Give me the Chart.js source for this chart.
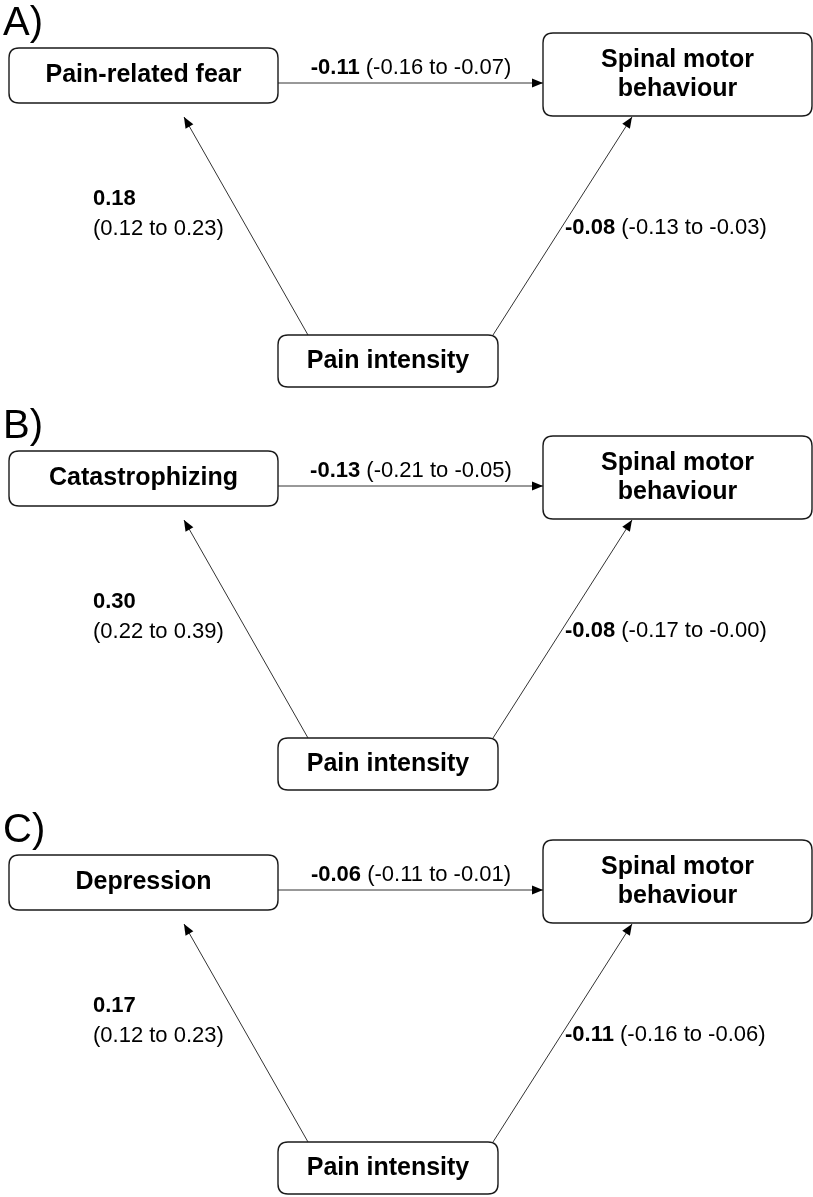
<!DOCTYPE html>
<html>
<head>
<meta charset="utf-8">
<script src="https://cdn.jsdelivr.net/npm/chart.js@4/dist/chart.umd.min.js"></script>
<style>
  html, body { margin: 0; padding: 0; background: #fff; }
</style>
</head>
<body>
<canvas id="myChart" width="813" height="1197"></canvas>
<script>
// path model values, one entry per panel
var panels = ['A)', 'B)', 'C)'];
var mediators = ['Pain-related fear', 'Catastrophizing', 'Depression'];
var predictor = 'Pain intensity';
var outcome = ['Spinal motor', 'behaviour'];

// pain intensity -> mediator
var aEst = [0.18, 0.30, 0.17];
var aLow = [0.12, 0.22, 0.12];
var aHigh = [0.23, 0.39, 0.23];
// mediator -> spinal motor behaviour
var bEst = [-0.11, -0.13, -0.06];
var bLow = [-0.16, -0.21, -0.11];
var bHigh = [-0.07, -0.05, -0.01];
// pain intensity -> spinal motor behaviour
var cEst = [-0.08, -0.08, -0.11];
var cLow = [-0.13, -0.17, -0.16];
var cHigh = [-0.03, -0.00, -0.06];

// layout of one panel (in scale units, same as pixels here)
var panelShift = [0, 403, 807];
var boxMed = { x0: 9, x1: 278, y0: 48, y1: 103 };
var boxOut = { x0: 543, x1: 812, y0: 33, y1: 116 };
var boxPred = { x0: 278, x1: 498, y0: 335, y1: 387 };
var arrows = [
  { from: [278, 83], to: [543, 83] },
  { from: [308, 335], to: [184, 117] },
  { from: [493, 335], to: [632, 117] }
];

var FONT = '"Liberation Sans", Arial, sans-serif';

function fmt(v) {
  var neg = v < 0 || Object.is(v, -0);
  return (neg ? '-' : '') + Math.abs(v).toFixed(2);
}

var datasets = [];
panelShift.forEach(function (dy) {
  arrows.forEach(function (a) {
    datasets.push({
      data: [{ x: a.from[0], y: a.from[1] + dy }, { x: a.to[0], y: a.to[1] + dy }],
      showLine: true,
      borderColor: '#333',
      borderWidth: 1,
      pointRadius: 0,
      pointHoverRadius: 0,
      fill: false
    });
  });
});

function roundBox(ctx, x0, y0, x1, y1, r) {
  ctx.beginPath();
  ctx.moveTo(x0 + r, y0);
  ctx.lineTo(x1 - r, y0);
  ctx.quadraticCurveTo(x1, y0, x1, y0 + r);
  ctx.lineTo(x1, y1 - r);
  ctx.quadraticCurveTo(x1, y1, x1 - r, y1);
  ctx.lineTo(x0 + r, y1);
  ctx.quadraticCurveTo(x0, y1, x0, y1 - r);
  ctx.lineTo(x0, y0 + r);
  ctx.quadraticCurveTo(x0, y0, x0 + r, y0);
  ctx.closePath();
  ctx.fillStyle = '#fff';
  ctx.fill();
  ctx.stroke();
}

// bold estimate followed by normal CI text, starting at x (left) or centred
function estText(ctx, est, lo, hi, x, y, align, split) {
  var bold = fmt(est);
  var rest = '(' + fmt(lo) + ' to ' + fmt(hi) + ')';
  ctx.textBaseline = 'middle';
  ctx.textAlign = 'left';
  ctx.font = 'bold 22px ' + FONT;
  var wb = ctx.measureText(bold + ' ').width;
  if (split) {
    ctx.fillText(bold, x, y);
    ctx.font = '22px ' + FONT;
    ctx.fillText(rest, x, y + 30);
    return;
  }
  ctx.font = '22px ' + FONT;
  var wr = ctx.measureText(rest).width;
  var sx = align === 'center' ? x - (wb + wr) / 2 : x;
  ctx.font = 'bold 22px ' + FONT;
  ctx.fillText(bold, sx, y);
  ctx.font = '22px ' + FONT;
  ctx.fillText(rest, sx + wb, y);
}

var diagram = {
  id: 'diagram',
  afterDatasetsDraw: function (chart) {
    var ctx = chart.ctx;
    var sx = chart.scales.x, sy = chart.scales.y;
    function px(v) { return sx.getPixelForValue(v); }
    function py(v) { return sy.getPixelForValue(v); }
    ctx.save();
    panelShift.forEach(function (dy, i) {
      // arrowheads
      arrows.forEach(function (a) {
        var x0 = px(a.from[0]), y0 = py(a.from[1] + dy);
        var x1 = px(a.to[0]), y1 = py(a.to[1] + dy);
        var ang = Math.atan2(y1 - y0, x1 - x0);
        ctx.save();
        ctx.translate(x1, y1);
        ctx.rotate(ang);
        ctx.beginPath();
        ctx.moveTo(0, 0);
        ctx.lineTo(-11, -4.5);
        ctx.lineTo(-11, 4.5);
        ctx.closePath();
        ctx.fillStyle = '#000';
        ctx.fill();
        ctx.restore();
      });

      // boxes
      ctx.strokeStyle = '#1a1a1a';
      ctx.lineWidth = 1.4;
      [boxMed, boxOut, boxPred].forEach(function (b) {
        roundBox(ctx, px(b.x0), py(b.y0 + dy), px(b.x1), py(b.y1 + dy), 10);
      });

      ctx.fillStyle = '#000';
      ctx.textAlign = 'center';
      ctx.textBaseline = 'middle';
      ctx.font = 'bold 25px ' + FONT;
      ctx.fillText(mediators[i], px((boxMed.x0 + boxMed.x1) / 2), py((boxMed.y0 + boxMed.y1) / 2 + dy));
      ctx.fillText(predictor, px((boxPred.x0 + boxPred.x1) / 2), py((boxPred.y0 + boxPred.y1) / 2 + dy));
      var cx = px((boxOut.x0 + boxOut.x1) / 2);
      var cy = (boxOut.y0 + boxOut.y1) / 2 + dy;
      ctx.fillText(outcome[0], cx, py(cy - 14));
      ctx.fillText(outcome[1], cx, py(cy + 15));

      // panel letter
      ctx.textAlign = 'left';
      ctx.textBaseline = 'top';
      ctx.font = '40px ' + FONT;
      ctx.fillText(panels[i], px(3), py(4 + dy));

      // coefficients
      estText(ctx, bEst[i], bLow[i], bHigh[i], px(411), py(68 + dy), 'center', false);
      estText(ctx, aEst[i], aLow[i], aHigh[i], px(93), py(199 + dy), 'left', true);
      estText(ctx, cEst[i], cLow[i], cHigh[i], px(565), py(228 + dy), 'left', false);
    });
    ctx.restore();
  }
};

var ctx = document.getElementById('myChart').getContext('2d');
var myChart = new Chart(ctx, {
  type: 'scatter',
  data: { datasets: datasets },
  options: {
    responsive: false,
    animation: false,
    events: [],
    layout: { padding: 0 },
    scales: {
      x: { type: 'linear', min: 0, max: 813, display: false },
      y: { type: 'linear', min: 0, max: 1197, reverse: true, display: false }
    },
    plugins: {
      legend: { display: false },
      tooltip: { enabled: false }
    }
  },
  plugins: [diagram]
});
</script>
</body>
</html>
